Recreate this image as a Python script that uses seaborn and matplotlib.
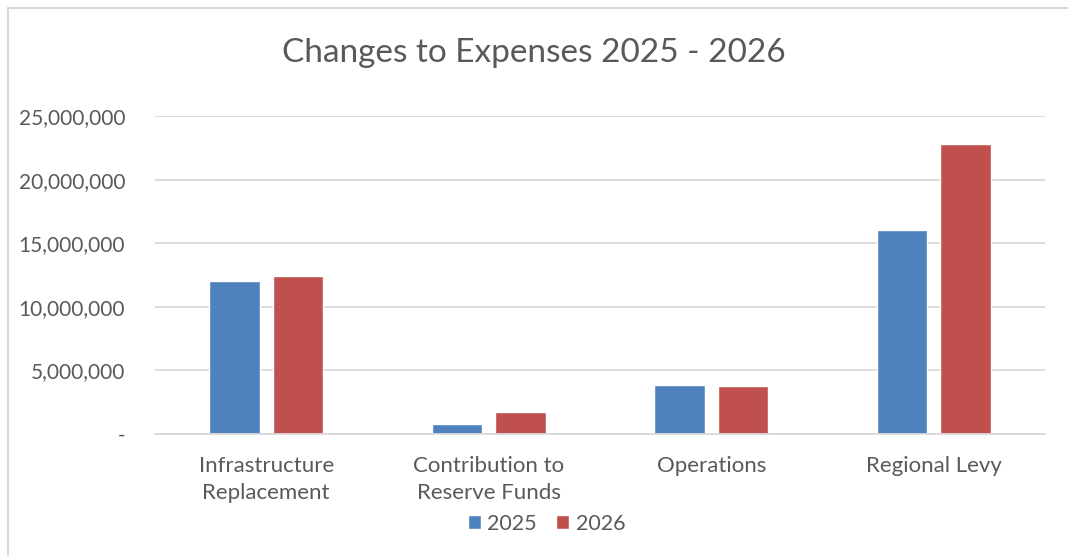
import pandas as pd
import matplotlib.pyplot as plt
import matplotlib.ticker as mticker
from matplotlib.lines import Line2D
import seaborn as sns

categories = ['Infrastructure\nReplacement', 'Contribution to\nReserve Funds',
              'Operations', 'Regional Levy']
years = ['2025', '2026']
vals_2025 = [12000000, 760000, 3880000, 16000000]
vals_2026 = [12400000, 1730000, 3800000, 22800000]

df = pd.DataFrame({
    'category': categories * 2,
    'year': [years[0]] * 4 + [years[1]] * 4,
    'value': vals_2025 + vals_2026,
})

sns.set_style('white')
plt.rcParams['font.family'] = ['Lato', 'DejaVu Sans']
txt = '#595959'

fig = plt.figure(figsize=(10.68, 5.56), dpi=100)
ax = fig.add_axes([155 / 1068, 1 - 434 / 556, 890 / 1068, 318 / 556])

sns.barplot(data=df, x='category', y='value', hue='year',
            palette=['#4F81BD', '#C0504D'], width=0.57, gap=0.21,
            saturation=1, ax=ax, legend=True)

ax.set_xlim(-0.5, 3.5)
ax.set_ylim(0, 25000000)
ax.set_yticks(range(0, 25000001, 5000000))
ax.yaxis.set_major_formatter(mticker.FuncFormatter(
    lambda v, p: '-' if v == 0 else f'{int(v):,}'))
ax.grid(axis='y', color='#D9D9D9', linewidth=1.3)
ax.set_axisbelow(True)
for s in ['top', 'right', 'left']:
    ax.spines[s].set_visible(False)
ax.spines['bottom'].set_color('#D9D9D9')
ax.spines['bottom'].set_linewidth(1.3)
ax.set_xlabel('')
ax.set_ylabel('')
ax.tick_params(axis='y', colors=txt, labelsize=15, length=0, pad=21.5)
ax.tick_params(axis='x', colors=txt, labelsize=16, length=0, pad=16)
for lab in ax.get_xticklabels():
    lab.set_linespacing(1.45)

ax.legend(loc='upper center', bbox_to_anchor=(0.44, -0.19), ncol=2, frameon=False,
          fontsize=15.5, labelcolor=txt, handlelength=0.6, handleheight=0.6,
          handletextpad=0.3, columnspacing=0.9)

fig.text(0.5, 1 - 53 / 556, 'Changes to Expenses 2025 - 2026', ha='center',
         va='center', fontsize=24, color=txt)

# chart border (left and top edges visible in the crop)
fig.add_artist(Line2D([8 / 1068, 8 / 1068], [0, 1 - 8 / 556],
                      transform=fig.transFigure, color='#D9D9D9', linewidth=1.5))
fig.add_artist(Line2D([8 / 1068, 1], [1 - 8 / 556, 1 - 8 / 556],
                      transform=fig.transFigure, color='#D9D9D9', linewidth=1.5))

fig.savefig('out.png', dpi=100)
